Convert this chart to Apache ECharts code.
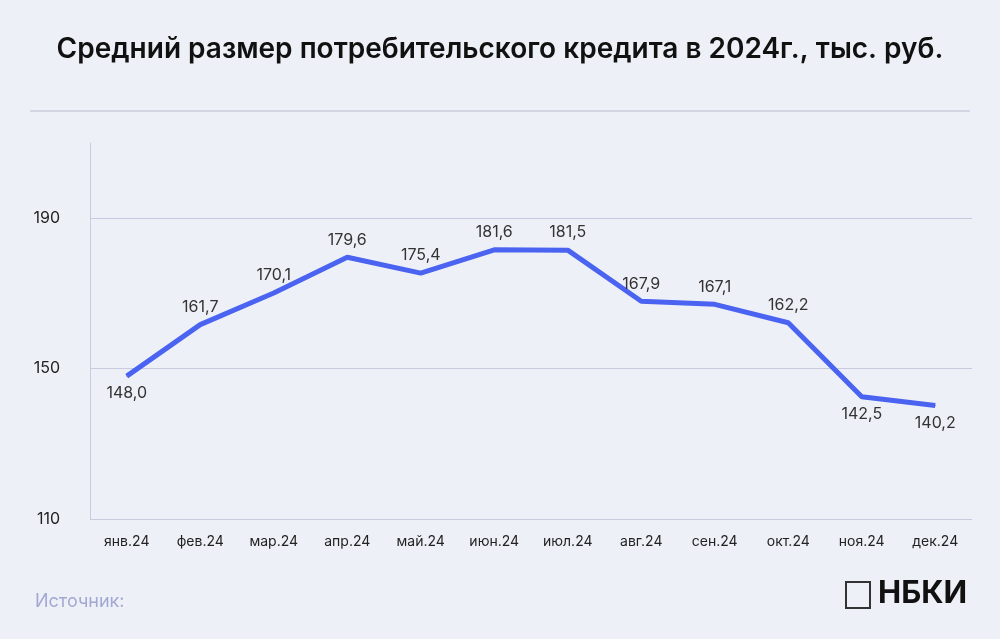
<!DOCTYPE html><html><head><meta charset="utf-8"><script src="https://cdn.jsdelivr.net/npm/echarts@6/dist/echarts.min.js"></script>
<style>html,body{margin:0;background:#eef0f7}#c{width:1000px;height:639px}</style></head><body><div id="c"></div><script>
const categories=['янв.24','фев.24','мар.24','апр.24','май.24','июн.24','июл.24','авг.24','сен.24','окт.24','ноя.24','дек.24'];
const values=[148.0,161.7,170.1,179.6,175.4,181.6,181.5,167.9,167.1,162.2,142.5,140.2];
const below=[0,10,11];
const c=echarts.init(document.getElementById('c'));
c.setOption({backgroundColor:'#eef0f7',
title:{text:'Средний размер потребительского кредита в 2024г., тыс. руб.',left:'center',top:31,textStyle:{fontFamily:'Inter',fontSize:28,fontWeight:600,color:'#111'}},
graphic:[{type:'line',shape:{x1:30,y1:111,x2:970,y2:111},style:{stroke:'#b8bccc',lineWidth:1}},
{type:'text',left:35,top:593,style:{text:'Источник:',fontFamily:'Inter',fontSize:18,fill:'#a3a8d2'}},
{type:'rect',shape:{x:846,y:582,width:24,height:26},style:{fill:'none',stroke:'#333',lineWidth:2}},
{type:'text',left:878,top:578,style:{text:'НБКИ',fontFamily:'Inter',fontSize:31,fontWeight:700,fill:'#111'}}],
grid:{left:90,right:28,top:143,bottom:120},
xAxis:{type:'category',data:categories,axisLine:{show:false},axisTick:{show:false},axisLabel:{fontFamily:'Inter',fontSize:14,color:'#222',margin:16}},
yAxis:{type:'value',min:110,max:210,interval:40,axisLine:{show:true,lineStyle:{color:'#c8cbd8'}},axisLabel:{showMaxLabel:false,fontFamily:'Inter',fontSize:16,color:'#222',margin:30},splitLine:{showMaxLine:false,lineStyle:{color:'#c8cbe0'}}},
series:[{type:'line',data:values.map((v,i)=>({value:v,label:{show:true,position:below.includes(i)?'bottom':'top'}})),symbol:'circle',symbolSize:1,showSymbol:true,itemStyle:{color:'#4a63f0'},lineStyle:{color:'#4a63f0',width:5},
label:{show:true,distance:9,fontFamily:'Inter',fontSize:16,color:'#333',formatter:p=>p.value.toFixed(1).replace('.',',')}}]});
</script></body></html>
